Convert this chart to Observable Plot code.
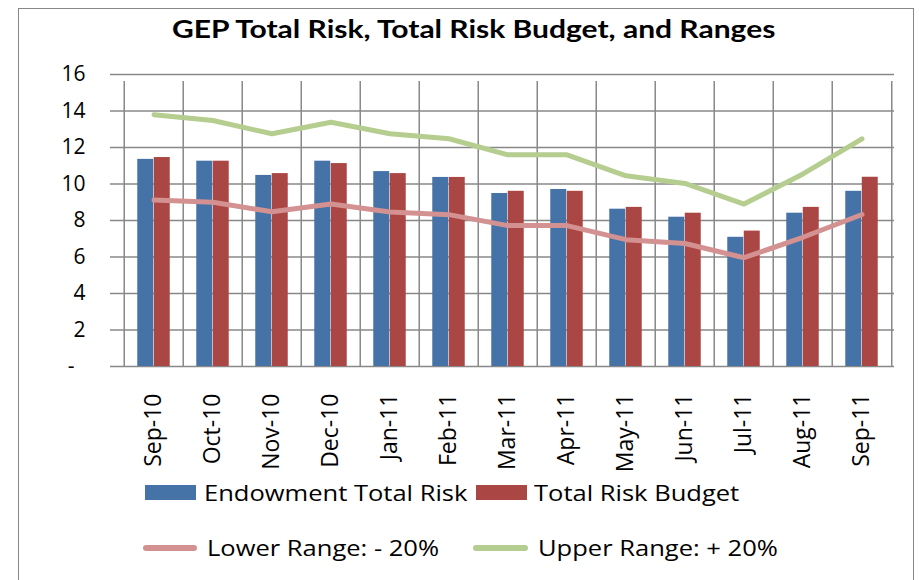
<!DOCTYPE html>
<html>
<head>
<meta charset="utf-8">
<script src="https://cdn.jsdelivr.net/npm/d3@7"></script>
<script src="https://cdn.jsdelivr.net/npm/@observablehq/plot@0.6"></script>
<style>
  html, body { margin: 0; padding: 0; background: #fff; }
  #wrap { position: relative; width: 919px; height: 580px; overflow: hidden; background: #fff; }
  #border { position: absolute; left: 18px; top: 8px; width: 896px; height: 600px; border: 1.5px solid #878787; box-sizing: border-box; }
  #title { position: absolute; left: 172px; top: 16px; font-family: Lato, "Open Sans", sans-serif; font-weight: bold; font-size: 25px; color: #000; white-space: nowrap; transform-origin: 0 0; transform: scaleX(1.2); line-height: 1; }
  #chart { position: absolute; left: 0; top: 0; }
  .leg { position: absolute; font-family: "Open Sans", sans-serif; font-size: 22px; color: #000; white-space: nowrap; line-height: 1; transform-origin: 0 0; transform: scaleX(1.16); }
  .sw { position: absolute; }
</style>
</head>
<body>
<div id="wrap">
  <div id="border"></div>
  <div id="chart"></div>
  <div id="title"></div>
  <div id="legend"></div>
</div>
<script>
const months = ["Sep-10","Oct-10","Nov-10","Dec-10","Jan-11","Feb-11","Mar-11","Apr-11","May-11","Jun-11","Jul-11","Aug-11","Sep-11"];
const endowmentTotalRisk = [11.35, 11.25, 10.47, 11.25, 10.68, 10.36, 9.48, 9.7, 8.62, 8.18, 7.08, 8.4, 9.6];
const totalRiskBudget    = [11.45, 11.25, 10.57, 11.12, 10.57, 10.36, 9.6, 9.6, 8.72, 8.4, 7.42, 8.72, 10.37];
const lowerRange         = [9.12, 9.0, 8.48, 8.9, 8.47, 8.32, 7.72, 7.72, 6.95, 6.74, 5.96, 7.08, 8.33];
const upperRange         = [13.8, 13.48, 12.75, 13.38, 12.75, 12.48, 11.6, 11.6, 10.45, 10.03, 8.9, 10.55, 12.47];
const yTicks = [0, 2, 4, 6, 8, 10, 12, 14, 16];
const titleText = "GEP Total Risk, Total Risk Budget, and Ranges";
const seriesNames = ["Endowment Total Risk", "Total Risk Budget", "Lower Range: - 20%", "Upper Range: + 20%"];
const seriesColors = ["#4572A7", "#AA4643", "#D39191", "#B5CD8F"];

const rows = months.map((m, i) => ({
  month: m,
  endow: endowmentTotalRisk[i],
  budget: totalRiskBudget[i],
  lower: lowerRange[i],
  upper: upperRange[i]
}));

const W = 919, H = 480, mL = 120, mR = 25, mT = 74, mB = 114;
const bw = (W - mL - mR) / months.length;
const barW = 16.5;
const grid = "#888888";

const chart = Plot.plot({
  width: W, height: H,
  marginLeft: mL, marginRight: mR, marginTop: mT, marginBottom: mB,
  style: { fontFamily: "'Open Sans', sans-serif", background: "transparent", overflow: "visible" },
  x: { type: "band", domain: months, padding: 0, label: null },
  y: { domain: [0, 16], label: null },
  marks: [
    Plot.ruleY(yTicks, { y: d => d, stroke: grid, strokeWidth: 1.5, insetLeft: -10 }),
    Plot.ruleX(months, { x: d => d, y1: 0, y2: 16, dx: -bw / 2, stroke: grid, strokeWidth: 1.5, insetBottom: -7 }),
    Plot.ruleX([months[months.length - 1]], { x: d => d, y1: 0, y2: 16, dx: bw / 2, stroke: grid, strokeWidth: 1.5, insetBottom: -7 }),
    Plot.barY(rows, { x: "month", y: "endow", fill: seriesColors[0], insetLeft: bw / 2 - barW, insetRight: bw / 2 }),
    Plot.barY(rows, { x: "month", y: "budget", fill: seriesColors[1], insetLeft: bw / 2, insetRight: bw / 2 - barW }),
    Plot.lineY(rows, { x: "month", y: "lower", stroke: seriesColors[2], strokeWidth: 5, strokeLinejoin: "round", strokeLinecap: "round" }),
    Plot.lineY(rows, { x: "month", y: "upper", stroke: seriesColors[3], strokeWidth: 5, strokeLinejoin: "round", strokeLinecap: "round" }),
    Plot.axisY(yTicks, { tickSize: 0, tickPadding: 35, fontSize: 21, fill: "#000", label: null,
      tickFormat: d => d === 0 ? "-\u00a0\u00a0" : String(d) }),
    Plot.axisX({ tickSize: 0, tickPadding: 27, tickRotate: -90, fontSize: 23, fill: "#000", label: null })
  ]
});
document.getElementById("chart").appendChild(chart);
document.getElementById("title").textContent = titleText;

const legend = document.getElementById("legend");
function addSwatch(x, y, w, h, color, round) {
  const s = document.createElement("div");
  s.className = "sw";
  s.style.left = x + "px"; s.style.top = y + "px";
  s.style.width = w + "px"; s.style.height = h + "px";
  s.style.background = color;
  if (round) s.style.borderRadius = (h / 2) + "px";
  legend.appendChild(s);
}
function addText(x, y, t) {
  const s = document.createElement("div");
  s.className = "leg";
  s.style.left = x + "px"; s.style.top = y + "px";
  s.textContent = t;
  legend.appendChild(s);
}
addSwatch(145, 485, 51, 15, seriesColors[0], false);
addText(204, 481, seriesNames[0]);
addSwatch(476, 485, 51, 15, seriesColors[1], false);
addText(534, 481, seriesNames[1]);
addSwatch(143, 545, 54, 6, seriesColors[2], true);
addText(207, 536, seriesNames[2]);
addSwatch(473, 545, 55, 6, seriesColors[3], true);
addText(538, 536, seriesNames[3]);
</script>
</body>
</html>
